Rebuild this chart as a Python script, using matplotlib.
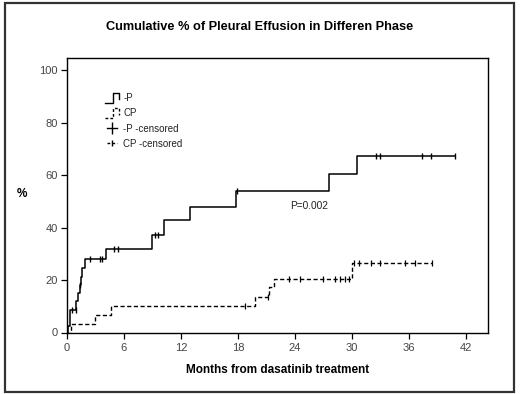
import numpy as np
import matplotlib
matplotlib.use("Agg")
import matplotlib.pyplot as plt
from matplotlib.lines import Line2D
from matplotlib.legend_handler import HandlerBase
from matplotlib.patches import Rectangle

plt.rcParams['font.family'] = ['Liberation Sans', 'DejaVu Sans']

# ---- data ----
times_p = [0, 0.1, 0.3, 1.0, 1.15, 1.35, 1.5, 1.6, 1.9, 4.1, 9.0, 10.2, 13.0, 17.8, 27.6, 30.5, 40.8]
cum_p   = [0, 2.5, 8.5, 12.0, 15.0, 18.0, 21.0, 24.5, 28.0, 32.0, 37.0, 42.7, 48.0, 54.0, 60.5, 67.2, 67.2]
cens_p  = [0.5, 0.9, 1.4, 2.4, 3.5, 3.7, 5.0, 5.4, 9.3, 9.6, 17.9, 32.5, 32.9, 37.4, 38.3, 40.8]

times_c = [0, 0.4, 2.9, 4.6, 19.8, 21.3, 21.8, 30.0, 38.4]
cum_c   = [0, 3.2, 6.5, 10.0, 13.5, 17.2, 20.5, 26.4, 26.4]
cens_c  = [18.7, 21.2, 23.4, 24.5, 27.0, 28.2, 28.7, 29.3, 29.7, 30.2, 30.7, 32.0, 32.9, 35.6, 36.6, 38.4]

x_ticks = [0, 6, 12, 18, 24, 30, 36, 42]
y_ticks = [0, 20, 40, 60, 80, 100]
legend_labels = ['-P', 'CP', '-P -censored', 'CP -censored']
title = 'Cumulative % of Pleural Effusion in Differen Phase'
xlabel = 'Months from dasatinib treatment'
ylabel = '%'
p_text = 'P=0.002'


def step_value(times, vals, t):
    idx = np.searchsorted(np.asarray(times), t, side='right') - 1
    return np.asarray(vals)[idx]


fig = plt.figure(figsize=(5.2, 3.94), dpi=100)
fig.patches.append(Rectangle((5 / 520, 2 / 394), 509 / 520, 389 / 394, transform=fig.transFigure,
                             fill=False, edgecolor='#333333', linewidth=1.6))

ax = fig.add_axes([67 / 520, 1 - 332.5 / 394, (488.3 - 67) / 520, (332.5 - 57.5) / 394])

ax.step(times_p, cum_p, where='post', color='black', lw=1.1)
ax.step(times_c, cum_c, where='post', color='black', lw=1.0, linestyle=(0, (3, 1.8)))

ax.plot(cens_p, step_value(times_p, cum_p, cens_p), linestyle='none', marker='|',
        color='black', markersize=5, markeredgewidth=1.0)
ax.plot(cens_c, step_value(times_c, cum_c, cens_c), linestyle='none', marker='|',
        color='black', markersize=4, markeredgewidth=0.9)

ax.text(23.5, 48.2, p_text, fontsize=7.3, va='center', ha='left', color='#222222')

ax.set_xlim(0, 44.35)
ax.set_ylim(0, 104.8)
ax.set_xticks(x_ticks)
ax.set_yticks(y_ticks)
ax.tick_params(direction='out', length=4.5, width=0.9, color='black', labelsize=8,
               labelcolor='#444444', pad=2)
ax.tick_params(axis='x', pad=3)
for s in ax.spines.values():
    s.set_linewidth(1.0)
    s.set_color('black')


class ShapeHandler(HandlerBase):
    def __init__(self, xs, ys, ls, marker=None):
        super().__init__()
        self.xs, self.ys, self.ls, self.marker = xs, ys, ls, marker

    def create_artists(self, legend, orig_handle, xdescent, ydescent, width, height, fontsize, trans):
        xs = [-xdescent + width * v for v in self.xs]
        ys = [-ydescent + height * v for v in self.ys]
        line = Line2D(xs, ys, color='black', lw=1.0, linestyle=self.ls, transform=trans)
        arts = [line]
        if self.marker:
            m = Line2D([-xdescent + width * 0.5], [-ydescent + height * 0.5], marker='|',
                       markersize=self.marker, color='black', markeredgewidth=1.0,
                       linestyle='none', transform=trans)
            arts.append(m)
        return arts


h1 = Line2D([], [])
h2 = Line2D([], [])
h3 = Line2D([], [])
h4 = Line2D([], [])
stepx = [0.0, 0.55, 0.55, 1.0, 1.0]
stepy = [0.0, 0.0, 1.0, 1.0, 0.35]
leg = ax.legend([h1, h2, h3, h4], legend_labels,
                handler_map={h1: ShapeHandler(stepx, stepy, '-'),
                             h2: ShapeHandler(stepx, stepy, (0, (2, 1.5))),
                             h3: ShapeHandler([0.15, 0.85], [0.5, 0.5], '-', marker=8),
                             h4: ShapeHandler([0.15, 0.85], [0.5, 0.5], (0, (2, 1.5)), marker=4)},
                loc='upper left', bbox_to_anchor=(0.08, 0.885), frameon=False, fontsize=7,
                handlelength=1.5, handleheight=1.2, handletextpad=0.4, labelspacing=0.5,
                borderaxespad=0)
for t in leg.get_texts():
    t.set_color('#222222')

fig.text(0.5, 1 - 27 / 394, title, ha='center', va='center', fontsize=9.2, fontweight='bold')
fig.text(277.5 / 520, 1 - 370 / 394, xlabel, ha='center', va='center', fontsize=8.5, fontweight='bold')
fig.text(22 / 520, 1 - 194 / 394, ylabel, ha='center', va='center', fontsize=8.5, fontweight='bold')

fig.savefig('out.png', dpi=100)
